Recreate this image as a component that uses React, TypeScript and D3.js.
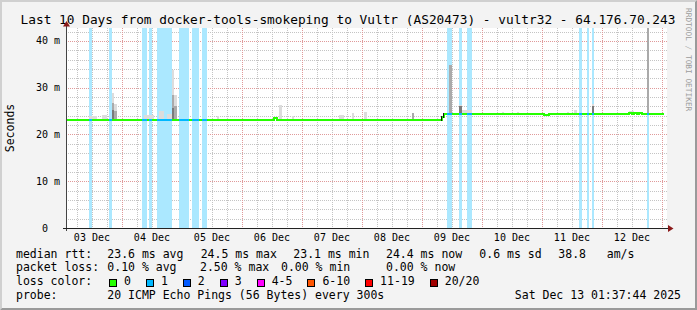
import React from "react";
import * as d3 from "d3";

// ---------- data ----------
const TITLE = "Last 10 Days from docker-tools-smokeping to Vultr (AS20473) - vultr32 - 64.176.70.243";
const START = "2025-12-03 01:37:44";
const END = "2025-12-13 01:37:44";
const Y_MAX = 42.78;
const Y_TICKS = [0, 10, 20, 30, 40];
const Y_TICK_LABELS = ["0", "10 m", "20 m", "30 m", "40 m"];
const X_LABEL_FORMAT = "%d %b";
const Y_TITLE = "Seconds";

// median rtt (ms), step-after
const medianPoints: [string, number][] = [
  ["12-03 01:00", 23.2],
  ["12-06 13:00", 23.5],
  ["12-06 14:00", 23.2],
  ["12-09 08:00", 23.7],
  ["12-09 09:00", 24.4],
  ["12-11 01:00", 24.1],
  ["12-11 03:00", 24.4],
  ["12-12 11:00", 24.7],
  ["12-12 12:00", 24.4],
  ["12-12 13:00", 24.7],
  ["12-12 14:00", 24.4],
  ["12-12 15:00", 24.7],
  ["12-12 16:00", 24.4],
  ["12-13 01:00", 24.4],
];

// periods with packet loss: start, end, lost pings
const lossBands: [string, string, number][] = [
  ["12-03 11:00", "12-03 12:00", 1],
  ["12-03 19:00", "12-03 20:00", 1],
  ["12-04 08:00", "12-04 10:00", 1],
  ["12-04 11:00", "12-04 12:00", 1],
  ["12-04 14:00", "12-04 20:00", 1],
  ["12-04 23:00", "12-05 03:00", 1],
  ["12-05 04:00", "12-05 07:00", 1],
  ["12-05 08:00", "12-05 10:00", 1],
  ["12-09 10:00", "12-09 12:00", 1],
  ["12-09 15:00", "12-09 16:00", 1],
  ["12-09 18:00", "12-09 20:00", 1],
  ["12-11 15:00", "12-11 16:00", 1],
  ["12-11 18:00", "12-11 19:00", 1],
  ["12-11 20:00", "12-11 21:00", 1],
  ["12-12 18:00", "12-12 19:00", 1],
];

// smoke: start, hours, low ms, high ms, density (1 light .. 4 dense)
const smoke: [string, number, number, number, number][] = [
  ["12-03 11:00", 3, 23.3, 24.0, 1],
  ["12-03 16:00", 2, 23.3, 24.1, 1],
  ["12-03 20:00", 1, 23.3, 28.9, 1],
  ["12-03 20:00", 1, 23.3, 26.8, 2],
  ["12-03 20:00", 1, 23.3, 25.2, 3],
  ["12-03 21:00", 1, 23.3, 26.6, 1],
  ["12-03 21:00", 1, 23.3, 25.0, 2],
  ["12-04 09:00", 4, 23.3, 24.2, 1],
  ["12-04 15:00", 2, 23.3, 25.0, 1],
  ["12-04 18:00", 2, 23.3, 24.4, 1],
  ["12-04 20:00", 1, 23.3, 33.8, 1],
  ["12-04 20:00", 1, 23.3, 28.4, 2],
  ["12-04 20:00", 1, 23.3, 25.6, 3],
  ["12-04 21:00", 1, 23.3, 28.4, 1],
  ["12-04 21:00", 1, 23.3, 26.0, 2],
  ["12-05 14:00", 1, 23.3, 24.0, 1],
  ["12-06 15:00", 1, 23.3, 26.3, 1],
  ["12-06 20:00", 1, 23.3, 23.9, 1],
  ["12-07 15:00", 2, 23.3, 24.1, 1],
  ["12-07 20:00", 1, 23.3, 24.7, 1],
  ["12-08 01:00", 1, 23.3, 24.9, 1],
  ["12-08 20:00", 1, 23.3, 24.7, 2],
  ["12-09 11:00", 1, 24.3, 34.9, 2],
  ["12-09 15:00", 1, 24.3, 26.3, 1],
  ["12-09 15:00", 1, 24.3, 26.0, 3],
  ["12-09 16:00", 4, 24.3, 25.2, 1],
  ["12-10 08:00", 1, 24.3, 24.8, 1],
  ["12-10 14:00", 1, 24.3, 24.8, 1],
  ["12-11 10:00", 1, 24.3, 24.8, 1],
  ["12-11 13:00", 1, 24.3, 25.2, 1],
  ["12-11 20:00", 1, 24.3, 26.5, 1],
  ["12-11 20:00", 1, 24.3, 26.0, 3],
  ["12-12 11:00", 2, 24.3, 25.0, 1],
  ["12-12 18:00", 1, 24.3, 45.0, 2],
];

const lossLabels = ["0", "1", "2", "3", "4-5", "6-10", "11-19", "20/20"];
const lossColors = ["#26ff00", "#00b8ff", "#0059ff", "#7e00ff", "#ff00ff", "#ff5500", "#ff0000", "#a10000"];

const rttLabel = "median rtt:";
const rttItems = ["23.6 ms avg", "24.5 ms max", "23.1 ms min", "24.4 ms now", "0.6 ms sd", "38.8   am/s"];
const lossLabel = "packet loss:";
const lossItems = ["0.10 % avg", "2.50 % max", "0.00 % min", "0.00 % now"];
const colorLabel = "loss color:";
const probeLabel = "probe:";
const probeText = "20 ICMP Echo Pings (56 Bytes) every 300s";
const stampText = "Sat Dec 13 01:37:44 2025";
const watermark = "RRDTOOL / TOBI OETIKER";

// ---------- layout ----------
const W = 697, H = 310;
const PL = 66, PR = 666, PT = 28, PB = 228;
const FONT = "'DejaVu Sans Mono', monospace";
const rttX = [107.3, 200.7, 293.3, 386, 479.3, 558.3];
const lossX = [107.3, 200, 281, 386];
const rowY = [257.5, 271.3, 285.1, 298.9];
const CW = 6.92;

const parseT = d3.utcParse("%Y-%m-%d %H:%M");
const parseFull = d3.utcParse("%Y-%m-%d %H:%M:%S");
const T = (s: string) => parseT("2025-" + s) as Date;

export default function App() {
  const start = parseFull(START) as Date;
  const end = parseFull(END) as Date;
  const x = d3.scaleUtc().domain([start, end]).range([PL, PR]);
  const y = d3.scaleLinear().domain([0, Y_MAX]).range([PB, PT]);
  const density = d3.scaleOrdinal<number, string>().domain([1, 2, 3, 4]).range(["#dcdcdc", "#aaaaaa", "#7a7a7a", "#202020"]);
  const fmt = d3.utcFormat(X_LABEL_FORMAT);

  const minorV = d3.utcHour.every(6)!.range(start, end).filter((d) => d.getUTCHours() !== 0);
  const majorV = d3.utcDay.range(start, end);
  const noons = d3.utcDay.range(d3.utcDay.floor(start), end).map((d) => d3.utcHour.offset(d, 12)).filter((d) => d >= start && d <= end);
  const minorH = d3.range(2, Y_MAX, 2).filter((v) => v % 10 !== 0);
  const majorH = Y_TICKS.filter((v) => v > 0);

  const pts = medianPoints.map(([t, v]) => [T(t), v] as [Date, number]);
  const line = d3
    .line<[Date, number]>()
    .x((d) => Math.round(x(d[0])))
    .y((d) => Math.round(y(d[1])))
    .curve(d3.curveStepAfter);
  const path = line(pts) || "";

  const connectors: { x: number; y0: number; y1: number }[] = [];
  for (let i = 1; i < pts.length; i++) {
    if (Math.abs(pts[i][1] - pts[i - 1][1]) > 0.4)
      connectors.push({ x: Math.round(x(pts[i][0])) - 0.5, y0: Math.round(y(pts[i - 1][1])) + 1, y1: Math.round(y(pts[i][1])) - 1 });
  }

  const bandFill = (n: number) => d3.interpolateRgb("#ffffff", lossColors[n])(0.33);
  const cx = (v: number) => Math.round(v) + 0.5;

  let lx = 109;
  const legendBoxes = lossLabels.map((lab, i) => {
    const item = { lab, color: lossColors[i], x: lx };
    lx += 30 + lab.length * CW;
    return item;
  });

  const P = { xmlSpace: "preserve" } as any;

  return (
    <svg width={W} height={H} style={{ position: "absolute", left: 0, top: 0, display: "block" }} fontFamily={FONT}>
      <defs>
        <clipPath id="plotclip">
          <rect x={PL} y={PT} width={PR - PL + 1} height={PB - PT} />
        </clipPath>
        {lossBands.map(([s, e], i) => (
          <clipPath id={"band" + i} key={i}>
            <rect x={Math.round(x(T(s)))} y={PT} width={Math.round(x(T(e))) - Math.round(x(T(s)))} height={PB - PT} />
          </clipPath>
        ))}
      </defs>
      <rect width={W} height={H} fill="#f3f3f3" />
      <polygon points={`0,0 ${W},0 ${W - 2},2 2,2 2,${H - 2} 0,${H}`} fill="#d0d0d0" />
      <polygon points={`${W},0 ${W},${H} 0,${H} 2,${H - 2} ${W - 2},${H - 2} ${W - 2},2`} fill="#9a9a9a" />

      <text x={348} y={24} textAnchor="middle" fontSize={12.8} fill="#000" {...P}>{TITLE}</text>

      <rect x={PL} y={PT} width={PR - PL + 1} height={PB - PT} fill="#ffffff" />

      {/* grid */}
      <g shapeRendering="crispEdges" strokeWidth={1} strokeDasharray="1,1">
        {minorH.map((v) => (
          <line key={"mh" + v} x1={PL} x2={PR + 1} y1={cx(y(v))} y2={cx(y(v))} stroke="#c4c4c4" />
        ))}
        {minorV.map((d, i) => (
          <line key={"mv" + i} x1={cx(x(d))} x2={cx(x(d))} y1={PT} y2={PB} stroke="#c4c4c4" />
        ))}
        {majorH.map((v) => (
          <line key={"Mh" + v} x1={PL} x2={PR + 1} y1={cx(y(v))} y2={cx(y(v))} stroke="#e09a9a" />
        ))}
        {majorV.map((d, i) => (
          <line key={"Mv" + i} x1={cx(x(d))} x2={cx(x(d))} y1={PT} y2={PB} stroke="#e09a9a" />
        ))}
      </g>

      {/* loss bands */}
      <g shapeRendering="crispEdges">
        {lossBands.map(([s, e, n], i) => (
          <rect key={i} x={x(T(s))} y={PT} width={x(T(e)) - x(T(s))} height={PB - PT} fill={bandFill(n)} />
        ))}
      </g>

      {/* smoke */}
      <g clipPath="url(#plotclip)" shapeRendering="crispEdges">
        {smoke.map(([s, h, lo, hi, dn], i) => {
          const t0 = T(s);
          const t1 = d3.utcHour.offset(t0, h);
          return <rect key={i} x={x(t0)} width={x(t1) - x(t0)} y={y(hi)} height={y(lo) - y(hi)} fill={density(dn)} />;
        })}
      </g>

      {/* median line */}
      <g clipPath="url(#plotclip)" shapeRendering="crispEdges">
        <path d={path} fill="none" stroke={lossColors[0]} strokeWidth={2} />
        {connectors.map((c, i) => (
          <line key={i} x1={c.x} x2={c.x} y1={c.y0} y2={c.y1} stroke="#111" strokeWidth={1} />
        ))}
        {lossBands.map(([s, e, n], i) => (
          <path key={i} d={path} fill="none" stroke={lossColors[n]} strokeWidth={2} clipPath={`url(#band${i})`} />
        ))}
      </g>

      {/* axes */}
      <g shapeRendering="crispEdges">
        <line x1={PL + 0.5} x2={PL + 0.5} y1={PB + 3} y2={PT - 2} stroke="#444" />
        <line x1={PL - 3} x2={PR + 2} y1={PB + 0.5} y2={PB + 0.5} stroke="#222" />
      </g>
      <polygon points={`${PL - 3},${PT - 1.5} ${PL + 4},${PT - 1.5} ${PL + 0.5},${PT - 7}`} fill="#8b1a1a" />
      <polygon points={`${PR + 2},${PB - 3} ${PR + 2},${PB + 4} ${PR + 7.5},${PB + 0.5}`} fill="#8b1a1a" />

      {/* y labels */}
      {Y_TICKS.map((v, i) => (
        <text key={v} x={v === 0 ? 60 - 2 * 6.02 : 60} y={y(v) + 3.5} textAnchor="end" fontSize={10} fill="#000">
          {Y_TICK_LABELS[i]}
        </text>
      ))}
      <text transform={`translate(14,${(PT + PB) / 2}) rotate(-90)`} textAnchor="middle" fontSize={11.5} fill="#000">
        {Y_TITLE}
      </text>

      {/* x labels */}
      {noons.map((d, i) => (
        <text key={i} x={x(d)} y={241} textAnchor="middle" fontSize={10} fill="#000">
          {fmt(d)}
        </text>
      ))}

      {/* legend */}
      <g fontSize={11.5} fill="#000">
        <text x={16} y={rowY[0]} {...P}>{rttLabel}</text>
        {rttItems.map((t, i) => (
          <text key={"r" + i} x={rttX[i]} y={rowY[0]} {...P}>{t}</text>
        ))}
        <text x={16} y={rowY[1]} {...P}>{lossLabel}</text>
        {lossItems.map((t, i) => (
          <text key={"l" + i} x={lossX[i]} y={rowY[1]} {...P}>{t}</text>
        ))}
        <text x={16} y={rowY[2]} {...P}>{colorLabel}</text>
        {legendBoxes.map((b, i) => (
          <g key={"b" + i}>
            <rect x={b.x + 0.5} y={279.5} width={7} height={7} fill={b.color} stroke="#000" strokeWidth={1} shapeRendering="crispEdges" />
            <text x={b.x + 15} y={rowY[2]} {...P}>{b.lab}</text>
          </g>
        ))}
        <text x={16} y={rowY[3]} {...P}>{probeLabel}</text>
        <text x={107.3} y={rowY[3]} {...P}>{probeText}</text>
        <text x={681} y={rowY[3]} textAnchor="end" {...P}>{stampText}</text>
      </g>

      <text transform="translate(686,8) rotate(90)" fontSize={7.8} fill="#9c9c9c" {...P}>{watermark}</text>
    </svg>
  );
}
